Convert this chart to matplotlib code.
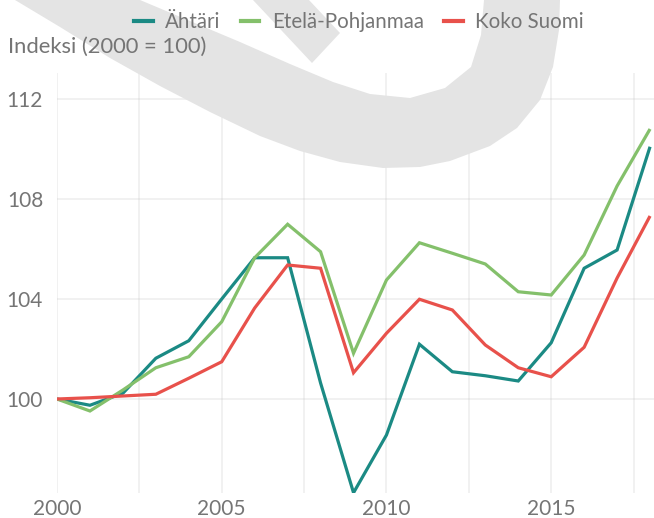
import matplotlib
matplotlib.use('Agg')
import matplotlib.pyplot as plt
from matplotlib.patches import Polygon
from matplotlib.lines import Line2D
from matplotlib.ticker import MultipleLocator

# data
years = list(range(2000, 2019))
ahtari = [100, 99.75, 100.23, 101.63, 102.33, 104.0, 105.65, 105.65, 100.64, 96.25,
          98.56, 102.19, 101.09, 100.93, 100.72, 102.25, 105.23, 105.96, 110.09]
etela_pohjanmaa = [100, 99.52, 100.36, 101.25, 101.69, 103.09, 105.65, 106.99, 105.89, 101.83,
                   104.76, 106.25, 105.83, 105.4, 104.29, 104.16, 105.76, 108.52, 110.8]
koko_suomi = [100, 100.05, 100.12, 100.19, 100.83, 101.49, 103.64, 105.36, 105.23, 101.05,
              102.63, 103.99, 103.56, 102.16, 101.25, 100.89, 102.07, 104.84, 107.32]
series_names = ['Ähtäri', 'Etelä-Pohjanmaa', 'Koko Suomi']
colors = ['#1b8a84', '#84c06b', '#e8514b']
y_ticks = [100, 104, 108, 112]
x_ticks = [2000, 2005, 2010, 2015]

W, H = 654, 518
plt.rcParams['font.family'] = ['Lato', 'DejaVu Sans']
text_color = '#757575'

fig = plt.figure(figsize=(W / 100, H / 100), dpi=100)
fig.patch.set_facecolor('white')

# grey watermark shape in the background (pixel outline, top-left origin)
outer = [(15, 0), (60, 27), (110, 58), (160, 86), (210, 112), (260, 136), (300, 151),
         (340, 162), (383, 168), (420, 167), (450, 161), (490, 146), (517, 128),
         (540, 100), (553, 67), (559, 30), (560, 0)]
inner = [(484, 0), (481, 35), (471, 67), (445, 88), (410, 98), (370, 94), (333, 82),
         (290, 64), (240, 42), (190, 21), (140, 0)]
tongue = [(253, 0), (312, 63), (340, 33), (309, 0)]


def to_fig(pts):
    return [(x / W, 1 - y / H) for x, y in pts]


fig.patches.append(Polygon(to_fig(outer + inner), closed=True, transform=fig.transFigure,
                           facecolor='#e4e4e4', edgecolor='none', zorder=0))
fig.patches.append(Polygon(to_fig(tongue), closed=True, transform=fig.transFigure,
                           facecolor='#e4e4e4', edgecolor='none', zorder=0))

ax = fig.add_axes([57 / W, 1 - 493 / H, (W - 57) / W, (493 - 73) / H])
ax.set_facecolor('none')

for vals, name, c in zip([ahtari, etela_pohjanmaa, koko_suomi], series_names, colors):
    ax.plot(years, vals, color=c, linewidth=2.3, label=name, solid_capstyle='butt',
            solid_joinstyle='miter', zorder=3)

ax.set_xlim(2000, 2018.12)
ax.set_ylim(96.24, 113.04)
ax.set_xticks(x_ticks)
ax.xaxis.set_minor_locator(MultipleLocator(2.5))
ax.set_yticks(y_ticks)
ax.grid(True, which='major', color='#c8c8c8', alpha=0.3, linewidth=1.2)
ax.grid(True, which='minor', axis='x', color='#c8c8c8', alpha=0.3, linewidth=1.2)
ax.set_axisbelow(True)
for s in ax.spines.values():
    s.set_visible(False)
ax.tick_params(which='both', length=0, labelsize=15, labelcolor=text_color)
ax.tick_params(axis='y', pad=10)
ax.tick_params(axis='x', pad=4)

fig.text(8 / W, 1 - 47 / H, 'Indeksi (2000 = 100)', ha='left', va='center',
         fontsize=15.8, color=text_color)

handles = [Line2D([0], [0], color=c, linewidth=3) for c in colors]
leg = fig.legend(handles, series_names, loc='center', bbox_to_anchor=(359 / W, 1 - 22 / H),
                 ncol=3, frameon=False, fontsize=14.8, handlelength=0.9,
                 handletextpad=0.6, columnspacing=1.0, borderaxespad=0, borderpad=0)
for t in leg.get_texts():
    t.set_color(text_color)

fig.savefig('out.png', dpi=100)
